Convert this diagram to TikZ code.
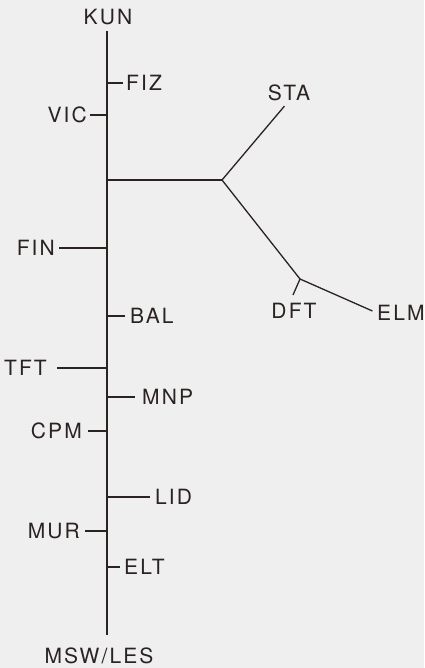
\documentclass[tikz,border=0pt]{standalone}
\usepackage{fontspec}
\setmainfont{TeX Gyre Heros}[LetterSpace=10]
\definecolor{ink}{HTML}{2B2222}
\definecolor{paper}{HTML}{EFEFEF}
\begin{document}
\begin{tikzpicture}[x=1pt,y=-1pt,
  lab/.style={inner sep=0pt,text height=15pt,text depth=0pt,anchor=center,
    font=\fontsize{21}{23}\selectfont,text=ink},
  br/.style={draw=ink,line width=1.3pt}]
\fill[paper] (0,0) rectangle (424,668);
\useasboundingbox (0,0) rectangle (424,668);
% labels
\node[lab] (kun) at (108,17) {KUN};
\node[lab,anchor=west] (fiz) at (126,83) {FIZ};
\node[lab,anchor=east] (vic) at (87,115) {VIC};
\node[lab] (sta) at (289,93) {STA};
\node[lab] (dft) at (294,311) {DFT};
\node[lab,anchor=west] (elm) at (377,313) {ELM};
\node[lab,anchor=east] (fin) at (55,248) {FIN};
\node[lab,anchor=west] (bal) at (130,316) {BAL};
\node[lab,anchor=east] (tft) at (47,368) {TFT};
\node[lab,anchor=west] (mnp) at (142,397) {MNP};
\node[lab,anchor=east] (cpm) at (82,431) {CPM};
\node[lab,anchor=west] (lid) at (155,497) {LID};
\node[lab,anchor=east] (mur) at (80,531) {MUR};
\node[lab,anchor=west] (elt) at (124,567) {ELT};
\node[lab] (msw) at (99,656) {MSW/LES};
% trunk coordinates
\coordinate (top) at (107,31);
\coordinate (bot) at (107,635);
\coordinate (tfiz) at (107,83);
\coordinate (tvic) at (107,115);
\coordinate (j0) at (107,180);
\coordinate (tfin) at (107,248);
\coordinate (tbal) at (107,316);
\coordinate (ttft) at (107,368);
\coordinate (tmnp) at (107,397);
\coordinate (tcpm) at (107,431);
\coordinate (tlid) at (107,497);
\coordinate (tmur) at (107,531);
\coordinate (telt) at (107,567);
\coordinate (j1) at (222,180);
\coordinate (j2) at (300,279);
\coordinate (dtip) at (293,295);
% connectors
\draw[br] (top) -- (bot);
\draw[br,shorten >=3pt] (tfiz) -- (tfiz -| fiz.west);
\draw[br,shorten >=3pt] (tvic) -- (tvic -| vic.east);
\draw[br,shorten >=4pt] (tfin) -- (tfin -| fin.east);
\draw[br,shorten >=5pt] (tbal) -- (tbal -| bal.west);
\draw[br,shorten >=10pt] (ttft) -- (ttft -| tft.east);
\draw[br,shorten >=7pt] (tmnp) -- (tmnp -| mnp.west);
\draw[br,shorten >=6pt] (tcpm) -- (tcpm -| cpm.east);
\draw[br,shorten >=5pt] (tlid) -- (tlid -| lid.west);
\draw[br,shorten >=5pt] (tmur) -- (tmur -| mur.east);
\draw[br,shorten >=4pt] (telt) -- (telt -| elt.west);
\draw[br] (j0) -- (j1);
\draw[br,shorten >=7pt] (j1) -- (sta.south);
\draw[br] (j1) -- (j2);
\draw[br] (j2) -- (dtip);
\draw[br,shorten >=5pt] (j2) -- (elm.west);
\end{tikzpicture}
\end{document}
